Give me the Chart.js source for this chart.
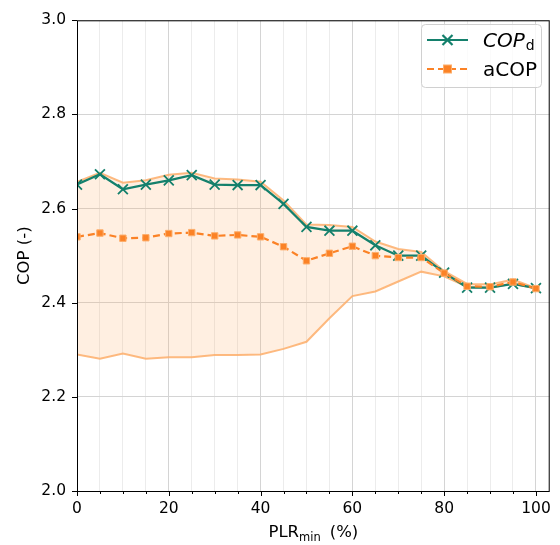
<!DOCTYPE html>
<html>
<head>
<meta charset="utf-8">
<script src="https://cdn.jsdelivr.net/npm/chart.js@4/dist/chart.umd.min.js"></script>
<style>
  body { margin: 0; background: #fff; }
  #wrap { width: 560px; height: 545px; }
</style>
</head>
<body>
<div id="wrap"><canvas id="chart"></canvas></div>
<script>
// minimum part load ratio (%)
const plrMin = [0, 5, 10, 15, 20, 25, 30, 35, 40, 45, 50, 55, 60, 65, 70, 75, 80, 85, 90, 95, 100];

const copD = [2.651, 2.673, 2.641, 2.651, 2.660, 2.671, 2.651, 2.650, 2.650, 2.610, 2.561,
  2.553, 2.553, 2.522, 2.500, 2.500, 2.464, 2.432, 2.432, 2.440, 2.431];

const aCop = [2.540, 2.548, 2.537, 2.538, 2.547, 2.549, 2.542, 2.544, 2.540, 2.519, 2.489,
  2.505, 2.520, 2.500, 2.496, 2.496, 2.463, 2.435, 2.434, 2.444, 2.430];

// spread of aCOP (shaded band)
const bandUpper = [2.657, 2.676, 2.655, 2.660, 2.672, 2.676, 2.664, 2.662, 2.657, 2.617, 2.566,
  2.565, 2.561, 2.530, 2.514, 2.508, 2.467, 2.440, 2.439, 2.449, 2.431];
const bandLower = [2.290, 2.281, 2.292, 2.281, 2.284, 2.284, 2.289, 2.289, 2.290, 2.302, 2.317,
  2.367, 2.414, 2.424, 2.445, 2.466, 2.456, 2.434, 2.432, 2.441, 2.430];

const xMajorTicks = [0, 20, 40, 60, 80, 100];
const yTicks = [2.0, 2.2, 2.4, 2.6, 2.8, 3.0];

const FONT = '"DejaVu Sans", sans-serif';
const GREEN = '#14806c';
const ORANGE = '#fb8226';
const BAND_LINE = 'rgba(253, 174, 107, 0.85)';
const BAND_FILL = 'rgba(253, 174, 107, 0.2)';

function toPoints(values) {
  return plrMin.map((x, i) => ({x: x, y: values[i]}));
}

function isMajorX(v) {
  return xMajorTicks.indexOf(v) !== -1;
}

// frame, tick marks, axis titles and legend, matplotlib style
const decorations = {
  id: 'decorations',
  afterDraw(chart) {
    const ctx = chart.ctx;
    const area = chart.chartArea;
    const xs = chart.scales.x;
    const ys = chart.scales.y;
    ctx.save();

    ctx.strokeStyle = '#000';
    ctx.lineWidth = 1;
    ctx.strokeRect(area.left + 0.5, area.top + 0.5, area.right - area.left - 1, area.bottom - area.top);

    ctx.beginPath();
    plrMin.forEach((v) => {
      const px = Math.round(xs.getPixelForValue(v)) + 0.5;
      const len = isMajorX(v) ? 5 : 3;
      ctx.moveTo(px, area.bottom);
      ctx.lineTo(px, area.bottom + len);
    });
    yTicks.forEach((v) => {
      const py = Math.round(ys.getPixelForValue(v)) + 0.5;
      ctx.moveTo(area.left, py);
      ctx.lineTo(area.left - 5, py);
    });
    ctx.stroke();

    // x title with subscript
    ctx.fillStyle = '#000';
    ctx.textBaseline = 'alphabetic';
    ctx.textAlign = 'left';
    const xMid = (area.left + area.right) / 2;
    const base = 537;
    ctx.font = '16.5px ' + FONT;
    const w1 = ctx.measureText('PLR').width;
    const w3 = ctx.measureText('(%)').width;
    ctx.font = '11.5px ' + FONT;
    const w2 = ctx.measureText('min').width;
    const gap = 9;
    let x0 = xMid - (w1 + w2 + gap + w3) / 2;
    ctx.font = '16.5px ' + FONT;
    ctx.fillText('PLR', x0, base);
    ctx.font = '11.5px ' + FONT;
    ctx.fillText('min', x0 + w1, base + 3.5);
    ctx.font = '16.5px ' + FONT;
    ctx.fillText('(%)', x0 + w1 + w2 + gap, base);

    // y title
    ctx.save();
    ctx.translate(25, (area.top + area.bottom) / 2);
    ctx.rotate(-Math.PI / 2);
    ctx.textAlign = 'center';
    ctx.textBaseline = 'middle';
    ctx.font = '16.5px ' + FONT;
    ctx.fillText('COP (-)', 0, 0);
    ctx.restore();

    // legend
    const bx = 421, by = 24, bw = 120, bh = 63;
    ctx.beginPath();
    ctx.roundRect(bx + 0.5, by + 0.5, bw, bh, 4);
    ctx.fillStyle = 'rgba(255,255,255,0.8)';
    ctx.fill();
    ctx.strokeStyle = '#d0d0d0';
    ctx.stroke();

    const lx0 = 427, lx1 = 468, mx = 447.5;
    const row1 = 40, row2 = 69;
    ctx.strokeStyle = GREEN;
    ctx.lineWidth = 2.2;
    ctx.beginPath();
    ctx.moveTo(lx0, row1);
    ctx.lineTo(lx1, row1);
    ctx.moveTo(mx - 5, row1 - 5);
    ctx.lineTo(mx + 5, row1 + 5);
    ctx.moveTo(mx - 5, row1 + 5);
    ctx.lineTo(mx + 5, row1 - 5);
    ctx.stroke();

    ctx.strokeStyle = ORANGE;
    ctx.setLineDash([7, 4]);
    ctx.beginPath();
    ctx.moveTo(lx0, row2);
    ctx.lineTo(lx1, row2);
    ctx.stroke();
    ctx.setLineDash([]);
    ctx.fillStyle = ORANGE;
    ctx.strokeStyle = '#fdae6b';
    ctx.lineWidth = 1;
    ctx.fillRect(mx - 4, row2 - 4, 8, 8);
    ctx.strokeRect(mx - 4, row2 - 4, 8, 8);

    ctx.fillStyle = '#000';
    ctx.textAlign = 'left';
    ctx.textBaseline = 'alphabetic';
    ctx.font = 'italic 20px ' + FONT;
    ctx.fillText('COP', 483, row1 + 7);
    const wc = ctx.measureText('COP').width;
    ctx.font = '14px ' + FONT;
    ctx.fillText('d', 483 + wc + 1, row1 + 10);
    ctx.font = '20px ' + FONT;
    ctx.fillText('aCOP', 483, row2 + 7);

    ctx.restore();
  }
};

new Chart(document.getElementById('chart'), {
  type: 'line',
  data: {
    datasets: [{
      label: 'aCOP',
      data: toPoints(aCop),
      borderColor: ORANGE,
      borderWidth: 2.2,
      borderDash: [7, 4],
      pointStyle: 'rect',
      pointRadius: 4.5,
      pointBackgroundColor: ORANGE,
      pointBorderColor: '#fdae6b',
      pointBorderWidth: 1,
      fill: false,
      order: 0
    }, {
      label: 'COPd',
      data: toPoints(copD),
      borderColor: GREEN,
      borderWidth: 2.2,
      pointStyle: 'crossRot',
      pointRadius: 7,
      pointBorderColor: GREEN,
      pointBorderWidth: 1.8,
      fill: false,
      order: 1
    }, {
      label: 'upper',
      data: toPoints(bandUpper),
      borderColor: BAND_LINE,
      borderWidth: 2,
      pointRadius: 0,
      backgroundColor: BAND_FILL,
      fill: '+1',
      order: 2
    }, {
      label: 'lower',
      data: toPoints(bandLower),
      borderColor: BAND_LINE,
      borderWidth: 2,
      pointRadius: 0,
      fill: false,
      order: 3
    }]
  },
  options: {
    responsive: true,
    maintainAspectRatio: false,
    animation: false,
    layout: {padding: {left: 0, right: 9, top: 14, bottom: 0}},
    plugins: {
      legend: {display: false},
      tooltip: {enabled: false},
      filler: {propagate: false}
    },
    elements: {line: {tension: 0}},
    scales: {
      x: {
        type: 'linear',
        min: 0,
        max: 103,
        afterFit: (scale) => { scale.height = 54; },
        afterBuildTicks: (scale) => {
          scale.ticks = plrMin.map((v) => ({value: v}));
        },
        border: {display: false},
        grid: {
          drawTicks: false,
          color: (c) => isMajorX(c.tick.value) ? '#d4d4d4' : '#ececec',
          lineWidth: 1
        },
        ticks: {
          padding: 9,
          autoSkip: false,
          maxRotation: 0,
          color: '#000',
          font: {family: FONT, size: 15.5},
          callback: (v) => isMajorX(v) ? String(v) : ''
        }
      },
      y: {
        min: 2.0,
        max: 3.0,
        afterFit: (scale) => { scale.width = 77; },
        afterBuildTicks: (scale) => {
          scale.ticks = yTicks.map((v) => ({value: v}));
        },
        border: {display: false},
        grid: {drawTicks: false, color: '#d4d4d4', lineWidth: 1},
        ticks: {
          padding: 11,
          color: '#000',
          font: {family: FONT, size: 15.5},
          callback: (v) => v.toFixed(1)
        }
      }
    }
  },
  plugins: [decorations]
});
</script>
</body>
</html>
